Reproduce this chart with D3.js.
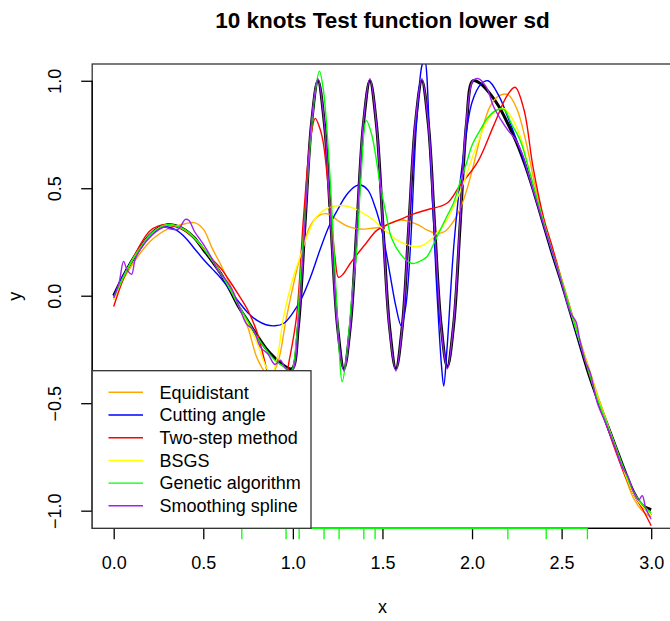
<!DOCTYPE html>
<html>
<head>
<meta charset="utf-8">
<script src="https://cdn.jsdelivr.net/npm/d3@7"></script>
<style>
  body { margin: 0; background: #fff; }
  text { font-family: "Liberation Sans", Arial, sans-serif; fill: #000; }
</style>
</head>
<body>
<script>
// values, [x, y]
var truth = [[0,0],[0.05,0.085],[0.1,0.16],[0.15,0.225],[0.2,0.28],[0.25,0.315],[0.3,0.33],[0.35,0.325],[0.4,0.305],[0.45,0.27],[0.5,0.215],[0.55,0.16],[0.6,0.1],[0.65,0.025],[0.7,-0.055],[0.75,-0.12],[0.8,-0.185],[0.85,-0.245],[0.9,-0.29],[0.95,-0.325],[0.995,-0.34],[1.031,-0.14],[1.0675,0.33],[1.104,0.8],[1.14,1.0],[1.176,0.8],[1.2125,0.33],[1.249,-0.14],[1.285,-0.34],[1.321,-0.14],[1.3575,0.33],[1.394,0.8],[1.43,1.0],[1.466,0.8],[1.5025,0.33],[1.539,-0.14],[1.575,-0.34],[1.611,-0.14],[1.6475,0.33],[1.684,0.8],[1.72,1.0],[1.756,0.8],[1.791,0.33],[1.8265,-0.13],[1.862,-0.33],[1.898,-0.13],[1.9335,0.33],[1.969,0.8],[2.005,1.0],[2.05,0.985],[2.1,0.94],[2.15,0.88],[2.2,0.8],[2.25,0.71],[2.3,0.6],[2.35,0.47],[2.4,0.33],[2.45,0.19],[2.5,0.06],[2.55,-0.08],[2.6,-0.22],[2.65,-0.36],[2.7,-0.48],[2.75,-0.59],[2.8,-0.7],[2.85,-0.81],[2.9,-0.91],[2.95,-0.975],[3.0,-0.995]];

var equidistant = [[0,-0.02],[0.05,0.07],[0.1,0.14],[0.15,0.2],[0.2,0.25],[0.25,0.285],[0.3,0.31],[0.35,0.325],[0.4,0.335],[0.45,0.34],[0.5,0.31],[0.55,0.22],[0.6,0.14],[0.65,0.05],[0.7,-0.05],[0.75,-0.15],[0.8,-0.29],[0.85,-0.36],[0.88,-0.37],[0.92,-0.3],[0.96,-0.12],[1.0,0.04],[1.05,0.21],[1.1,0.33],[1.15,0.375],[1.2,0.38],[1.25,0.35],[1.3,0.325],[1.35,0.313],[1.4,0.31],[1.45,0.315],[1.5,0.32],[1.55,0.34],[1.6,0.352],[1.65,0.345],[1.7,0.33],[1.75,0.305],[1.8,0.29],[1.85,0.3],[1.9,0.35],[1.95,0.44],[2.0,0.58],[2.05,0.75],[2.1,0.88],[2.15,0.93],[2.2,0.935],[2.25,0.87],[2.3,0.72],[2.35,0.52],[2.4,0.36],[2.45,0.22],[2.5,0.08],[2.55,-0.06],[2.6,-0.2],[2.65,-0.33],[2.7,-0.46],[2.75,-0.58],[2.8,-0.71],[2.85,-0.83],[2.9,-0.94],[2.95,-1.0],[3.0,-1.03]];

var cuttingAngle = [[0,0],[0.05,0.09],[0.1,0.16],[0.15,0.225],[0.2,0.28],[0.25,0.31],[0.3,0.32],[0.35,0.305],[0.4,0.27],[0.45,0.22],[0.5,0.17],[0.55,0.125],[0.6,0.08],[0.65,0.025],[0.7,-0.03],[0.75,-0.08],[0.8,-0.115],[0.85,-0.135],[0.9,-0.14],[0.95,-0.128],[1.0,-0.08],[1.05,-0.01],[1.1,0.09],[1.15,0.21],[1.2,0.32],[1.25,0.4],[1.3,0.47],[1.35,0.51],[1.38,0.515],[1.42,0.49],[1.46,0.41],[1.5,0.29],[1.54,0.11],[1.575,-0.05],[1.605,-0.14],[1.63,-0.05],[1.655,0.21],[1.69,0.8],[1.72,1.07],[1.735,1.1],[1.765,0.7],[1.8,0.08],[1.83,-0.33],[1.842,-0.42],[1.86,-0.25],[1.9,0.25],[1.95,0.64],[2.0,0.9],[2.05,0.985],[2.09,1.0],[2.15,0.93],[2.2,0.83],[2.25,0.72],[2.3,0.6],[2.35,0.47],[2.4,0.33],[2.45,0.19],[2.5,0.06],[2.55,-0.08],[2.6,-0.22],[2.65,-0.35],[2.7,-0.48],[2.75,-0.6],[2.8,-0.71],[2.85,-0.82],[2.9,-0.92],[2.95,-0.98],[3.0,-1.02]];

var twoStep = [[0,-0.05],[0.05,0.07],[0.1,0.16],[0.15,0.24],[0.2,0.3],[0.25,0.325],[0.3,0.33],[0.35,0.32],[0.4,0.3],[0.45,0.265],[0.5,0.22],[0.55,0.17],[0.6,0.125],[0.65,0.065],[0.7,0.0],[0.75,-0.07],[0.8,-0.17],[0.85,-0.33],[0.89,-0.47],[0.93,-0.5],[0.98,-0.3],[1.02,-0.1],[1.06,0.37],[1.1,0.74],[1.125,0.825],[1.15,0.78],[1.17,0.71],[1.21,0.4],[1.235,0.18],[1.255,0.085],[1.28,0.1],[1.32,0.15],[1.4,0.235],[1.47,0.305],[1.54,0.335],[1.6,0.355],[1.67,0.38],[1.75,0.4],[1.86,0.43],[1.93,0.51],[2.03,0.62],[2.12,0.79],[2.195,0.93],[2.24,0.97],[2.29,0.865],[2.34,0.6],[2.4,0.36],[2.45,0.22],[2.5,0.07],[2.55,-0.07],[2.6,-0.21],[2.65,-0.35],[2.7,-0.48],[2.75,-0.6],[2.8,-0.72],[2.85,-0.83],[2.9,-0.92],[2.95,-0.99],[3.0,-1.07]];

var bsgs = [[0,-0.02],[0.05,0.08],[0.1,0.16],[0.15,0.225],[0.2,0.28],[0.25,0.315],[0.3,0.33],[0.35,0.325],[0.4,0.305],[0.45,0.27],[0.5,0.22],[0.55,0.165],[0.6,0.1],[0.65,0.03],[0.7,-0.05],[0.75,-0.13],[0.8,-0.22],[0.85,-0.33],[0.88,-0.37],[0.91,-0.3],[0.95,-0.09],[1.0,0.08],[1.04,0.18],[1.09,0.3],[1.133,0.368],[1.2,0.41],[1.263,0.42],[1.31,0.415],[1.357,0.4],[1.4,0.38],[1.45,0.352],[1.49,0.32],[1.543,0.285],[1.58,0.26],[1.63,0.24],[1.673,0.228],[1.73,0.236],[1.785,0.274],[1.859,0.352],[1.91,0.44],[1.952,0.523],[2.0,0.64],[2.045,0.74],[2.09,0.82],[2.138,0.864],[2.18,0.87],[2.22,0.83],[2.27,0.74],[2.32,0.58],[2.36,0.46],[2.4,0.34],[2.45,0.2],[2.5,0.07],[2.55,-0.07],[2.6,-0.21],[2.65,-0.34],[2.7,-0.47],[2.75,-0.59],[2.8,-0.7],[2.85,-0.82],[2.9,-0.92],[2.95,-0.98],[3.0,-1.02]];

var genetic = [[0,-0.01],[0.05,0.08],[0.1,0.16],[0.15,0.225],[0.2,0.28],[0.25,0.315],[0.3,0.33],[0.35,0.325],[0.4,0.305],[0.45,0.27],[0.5,0.22],[0.55,0.165],[0.6,0.1],[0.65,0.03],[0.7,-0.05],[0.75,-0.12],[0.8,-0.19],[0.85,-0.25],[0.9,-0.3],[0.95,-0.33],[0.99,-0.35],[1.02,-0.2],[1.04,0.06],[1.07,0.4],[1.1,0.74],[1.125,0.95],[1.148,1.045],[1.17,0.96],[1.2,0.65],[1.23,0.2],[1.255,-0.2],[1.275,-0.4],[1.3,-0.28],[1.33,0.0],[1.357,0.22],[1.38,0.55],[1.41,0.815],[1.44,0.75],[1.487,0.52],[1.52,0.38],[1.55,0.27],[1.6,0.195],[1.65,0.155],[1.673,0.15],[1.72,0.165],[1.747,0.18],[1.78,0.23],[1.822,0.305],[1.86,0.37],[1.896,0.43],[1.93,0.52],[1.97,0.62],[2.0,0.7],[2.045,0.77],[2.09,0.83],[2.138,0.864],[2.18,0.865],[2.22,0.8],[2.27,0.72],[2.32,0.58],[2.36,0.46],[2.4,0.34],[2.45,0.2],[2.5,0.07],[2.55,-0.07],[2.6,-0.21],[2.65,-0.35],[2.7,-0.48],[2.75,-0.59],[2.8,-0.7],[2.85,-0.81],[2.9,-0.91],[2.95,-0.97],[3.0,-1.01]];

var smoothing = [[0,-0.01],[0.03,0.06],[0.055,0.16],[0.075,0.12],[0.1,0.1],[0.12,0.17],[0.16,0.23],[0.2,0.27],[0.24,0.3],[0.28,0.32],[0.32,0.31],[0.36,0.31],[0.4,0.355],[0.42,0.35],[0.45,0.3],[0.5,0.24],[0.55,0.17],[0.58,0.12],[0.62,0.08],[0.66,0.03],[0.7,-0.05],[0.74,-0.13],[0.78,-0.16],[0.82,-0.24],[0.86,-0.27],[0.9,-0.32],[0.93,-0.3],[0.96,-0.34],[0.995,-0.35],[1.031,-0.13],[1.0675,0.34],[1.104,0.81],[1.14,1.01],[1.176,0.8],[1.2125,0.32],[1.249,-0.15],[1.285,-0.35],[1.321,-0.14],[1.3575,0.34],[1.394,0.81],[1.43,1.01],[1.466,0.8],[1.5025,0.32],[1.539,-0.15],[1.575,-0.35],[1.611,-0.14],[1.6475,0.34],[1.684,0.81],[1.72,1.01],[1.756,0.8],[1.791,0.32],[1.8265,-0.14],[1.862,-0.34],[1.898,-0.12],[1.9335,0.35],[1.969,0.82],[2.005,1.0],[2.035,1.01],[2.08,0.97],[2.12,0.88],[2.16,0.82],[2.2,0.77],[2.24,0.73],[2.28,0.66],[2.32,0.55],[2.36,0.44],[2.4,0.33],[2.45,0.2],[2.5,0.06],[2.55,-0.08],[2.58,-0.12],[2.6,-0.2],[2.63,-0.3],[2.66,-0.36],[2.7,-0.5],[2.75,-0.6],[2.8,-0.71],[2.84,-0.8],[2.87,-0.84],[2.9,-0.91],[2.93,-0.95],[2.95,-0.93],[2.97,-0.99],[3.0,-1.04]];

var knots = [0.715, 0.962, 1.035, 1.174, 1.258, 1.396, 1.459, 2.2, 2.414, 2.644];

var xTicks = [0, 0.5, 1, 1.5, 2, 2.5, 3];
var yTicks = [-1, -0.5, 0, 0.5, 1];

var seriesNames = ["Equidistant", "Cutting angle", "Two-step method", "BSGS", "Genetic algorithm", "Smoothing spline"];
var seriesColors = ["#FFA500", "#0000FF", "#FF0000", "#FFFF00", "#00FF00", "#A020F0"];
var seriesData = [equidistant, cuttingAngle, twoStep, bsgs, genetic, smoothing];

var width = 670, height = 621;

var x = d3.scaleLinear().domain([-0.12, 3.12]).range([92.2, 672.7]);
var y = d3.scaleLinear().domain([-1.082, 1.078]).range([528.3, 64]);

var svg = d3.select('body').append('svg')
  .attr('width', width)
  .attr('height', height);

svg.append('clipPath').attr('id', 'plotclip')
  .append('rect')
  .attr('x', x(-0.12)).attr('y', y(1.078))
  .attr('width', x(3.12) - x(-0.12))
  .attr('height', y(-1.082) - y(1.078));

var line = d3.line()
  .x(function(d) { return x(d[0]); })
  .y(function(d) { return y(d[1]); })
  .curve(d3.curveCatmullRom.alpha(0.5));

var plot = svg.append('g').attr('clip-path', 'url(#plotclip)');

// true function underneath
plot.append('path')
  .attr('d', line(truth))
  .style('fill', 'none')
  .style('stroke', '#000')
  .style('stroke-width', 3);

seriesData.forEach(function(s, i) {
  plot.append('path')
    .attr('d', line(s))
    .style('fill', 'none')
    .style('stroke', seriesColors[i])
    .style('stroke-width', 1.4);
});

// frame
svg.append('rect')
  .attr('x', x(-0.12)).attr('y', y(1.078))
  .attr('width', x(3.12) - x(-0.12))
  .attr('height', y(-1.082) - y(1.078))
  .style('fill', 'none')
  .style('stroke', '#333')
  .style('stroke-width', 1.3);

// axes
var xAxis = svg.append('g')
  .attr('transform', 'translate(0,' + y(-1.082) + ')')
  .call(d3.axisBottom(x).tickValues(xTicks).tickSize(11).tickPadding(28)
    .tickFormat(d3.format('.1f')));

var yAxis = svg.append('g')
  .attr('transform', 'translate(' + x(-0.12) + ',0)')
  .call(d3.axisLeft(y).tickValues(yTicks).tickSize(11).tickFormat(d3.format('.1f')));

[xAxis, yAxis].forEach(function(a) {
  a.select('.domain').remove();
  a.selectAll('line').style('stroke', '#000').style('stroke-width', 1.3);
  a.selectAll('text').style('font-size', '18px')
    .style('font-family', '"Liberation Sans", Arial, sans-serif');
});
xAxis.selectAll('text').attr('y', 40.7).attr('dy', null);

yAxis.selectAll('text')
  .attr('x', null).attr('dy', null)
  .attr('text-anchor', 'middle')
  .attr('transform', 'translate(' + (61.5 - x(-0.12)) + ',0) rotate(-90)')
  .attr('y', 0);

// axis lines spanning the ticks
svg.append('line')
  .attr('x1', x(0)).attr('x2', x(3))
  .attr('y1', y(-1.082)).attr('y2', y(-1.082))
  .style('stroke', '#000').style('stroke-width', 1.3);
svg.append('line')
  .attr('x1', x(-0.12)).attr('x2', x(-0.12))
  .attr('y1', y(-1)).attr('y2', y(1))
  .style('stroke', '#000').style('stroke-width', 1.3);

// knots as green axis ticks
svg.append('line')
  .attr('x1', x(d3.min(knots))).attr('x2', x(d3.max(knots)))
  .attr('y1', y(-1.082)).attr('y2', y(-1.082))
  .style('stroke', '#00FF00').style('stroke-width', 1.3);
svg.selectAll('.knot')
  .data(knots)
  .enter()
  .append('line')
  .attr('class', 'knot')
  .attr('x1', function(d) { return x(d); })
  .attr('x2', function(d) { return x(d); })
  .attr('y1', y(-1.082))
  .attr('y2', y(-1.082) + 11)
  .style('stroke', '#00FF00')
  .style('stroke-width', 1.3);

// legend, bottom left
var legend = svg.append('g');
legend.append('rect')
  .attr('x', x(-0.12)).attr('y', 370.7)
  .attr('width', 311 - x(-0.12))
  .attr('height', y(-1.082) - 370.7)
  .style('fill', '#fff')
  .style('stroke', '#333')
  .style('stroke-width', 1.3);

var item = legend.selectAll('.item')
  .data(seriesNames)
  .enter()
  .append('g')
  .attr('class', 'item')
  .attr('transform', function(d, i) { return 'translate(0,' + (392.3 + i * 22.7) + ')'; });

item.append('line')
  .attr('x1', 108.5).attr('x2', 143)
  .style('stroke', function(d, i) { return seriesColors[i]; })
  .style('stroke-width', 1.4);

item.append('text')
  .attr('x', 159.6)
  .attr('dy', '0.35em')
  .style('font-size', '18px')
  .text(function(d) { return d; });

// titles
svg.append('text')
  .attr('x', (x(-0.12) + x(3.12)) / 2)
  .attr('y', 27.5)
  .attr('text-anchor', 'middle')
  .style('font-size', '22.5px')
  .style('font-weight', 'bold')
  .text('10 knots Test function lower sd');

svg.append('text')
  .attr('x', (x(-0.12) + x(3.12)) / 2)
  .attr('y', 612.5)
  .attr('text-anchor', 'middle')
  .style('font-size', '18px')
  .text('x');

svg.append('text')
  .attr('transform', 'translate(20.5,' + (y(-1.082) + y(1.078)) / 2 + ') rotate(-90)')
  .attr('text-anchor', 'middle')
  .style('font-size', '18px')
  .text('y');
</script>
</body>
</html>
